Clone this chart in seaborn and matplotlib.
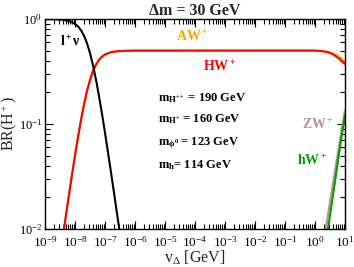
import numpy as np
import pandas as pd
import matplotlib
matplotlib.use("Agg")
import matplotlib.pyplot as plt
import seaborn as sns
from matplotlib.ticker import LogLocator, NullFormatter

# ---- data (log10 of v_Delta, branching ratio) ----
lnu_logv = [-9.0, -8.8, -8.6, -8.4, -8.2, -8.0, -7.9, -7.8, -7.7, -7.6, -7.5, -7.4,
            -7.3, -7.2, -7.1, -7.0, -6.9, -6.8, -6.7, -6.6, -6.5, -6.4]
lnu_br = [0.999, 0.997, 0.993, 0.983, 0.958, 0.900, 0.850, 0.782, 0.693, 0.588, 0.474,
          0.362, 0.264, 0.184, 0.125, 0.0826, 0.0538, 0.0346, 0.0221, 0.0141, 0.0089, 0.0056]

hw_logv = [-8.5, -8.4, -8.3, -8.2, -8.1, -8.0, -7.9, -7.8, -7.7, -7.6, -7.5, -7.4, -7.3,
           -7.2, -7.1, -7.0, -6.8, -6.6, -6.4, -6.0, -4.0, -2.0, 0.0, 0.2, 0.4, 0.5,
           0.6, 0.7, 0.8, 0.9, 1.0]
hw_br = [0.0055, 0.00865, 0.0136, 0.0212, 0.0328, 0.050, 0.0748, 0.109, 0.153, 0.206,
         0.263, 0.319, 0.368, 0.408, 0.438, 0.459, 0.483, 0.493, 0.497, 0.4997, 0.5,
         0.5, 0.5, 0.495, 0.485, 0.475, 0.46, 0.44, 0.42, 0.395, 0.37]

aw_logv = [-8.5, -8.4, -8.3, -8.2, -8.1, -8.0, -7.9, -7.8, -7.7, -7.6, -7.5, -7.4, -7.3,
           -7.2, -7.1, -7.0, -6.8, -6.6, -6.4, -6.0, -4.0, -2.0, 0.0, 0.2, 0.4, 0.6,
           0.8, 0.9, 1.0]
aw_br = [0.0055, 0.00865, 0.0136, 0.0212, 0.0328, 0.050, 0.0748, 0.109, 0.153, 0.206,
         0.263, 0.319, 0.368, 0.408, 0.438, 0.459, 0.483, 0.493, 0.497, 0.4997, 0.5,
         0.5, 0.5, 0.497, 0.49, 0.47, 0.44, 0.415, 0.39]

zw_logv = [0.36, 0.5, 0.6, 0.7, 0.8, 0.9, 1.0]
zw_br = [0.01, 0.018, 0.027, 0.041, 0.062, 0.092, 0.135]

hw0_logv = [0.43, 0.5, 0.6, 0.7, 0.8, 0.9, 1.0]
hw0_br = [0.01, 0.0135, 0.021, 0.033, 0.052, 0.080, 0.12]

mass_labels = [r"$\mathbf{m_{H^{++}}}$ = 190 GeV",
               r"$\mathbf{m_{H^{+}}}$ = 160 GeV",
               r"$\mathbf{m_{\phi^0}}$ = 123 GeV",
               r"$\mathbf{m_{h}}$= 114 GeV"]

sns.set_style("ticks")
plt.rcParams["font.family"] = ["Liberation Serif", "DejaVu Serif"]
plt.rcParams["mathtext.fontset"] = "custom"
plt.rcParams["mathtext.rm"] = "Liberation Serif"
plt.rcParams["mathtext.it"] = "Liberation Serif:italic"
plt.rcParams["mathtext.bf"] = "Liberation Serif:bold"

fig = plt.figure(figsize=(3.54, 2.67), dpi=100)
ax = fig.add_axes([45/354, 1-229/267, 300/354, 210/267])

def draw(logv, br, color, lw=1.5):
    df = pd.DataFrame({"v": np.power(10.0, logv), "br": br})
    sns.lineplot(data=df, x="v", y="br", color=color, lw=lw, ax=ax,
                 estimator=None, sort=False)

draw(aw_logv, aw_br, "#ffa500")
draw(hw_logv, hw_br, "#ff0000")
draw(lnu_logv, lnu_br, "#000000")
draw(zw_logv, zw_br, "#bc8f8f")
draw(hw0_logv, hw0_br, "#00a000")

ax.set_xscale("log")
ax.set_yscale("log")
ax.set_xlim(1e-9, 10)
ax.set_ylim(1e-2, 1)
ax.xaxis.set_major_locator(LogLocator(base=10, numticks=20))
ax.xaxis.set_minor_locator(LogLocator(base=10, subs=np.arange(2, 10), numticks=20))
ax.xaxis.set_minor_formatter(NullFormatter())
ax.yaxis.set_minor_locator(LogLocator(base=10, subs=np.arange(2, 10), numticks=20))
ax.yaxis.set_minor_formatter(NullFormatter())
ax.tick_params(which="both", direction="in", top=True, right=True, labelsize=9.5,
               width=0.8, colors="black")
ax.tick_params(axis="x", pad=4.5)
ax.tick_params(axis="y", pad=2, labelsize=9)
ax.tick_params(which="major", length=6)
ax.tick_params(which="minor", length=3.5)
for s in ax.spines.values():
    s.set_linewidth(1.0)
    s.set_color("black")

ax.set_xlabel(r"v$_\Delta$ [GeV]", fontsize=11.5, labelpad=-1)
ax.set_ylabel(r"BR(H$^+$)", fontsize=11.5)
ax.yaxis.set_label_coords(-0.088, 0.5)
ax.set_title("Δm = 30 GeV", fontsize=11.5, fontweight="bold", pad=3)

ax.text(3.2e-9, 0.6, r"$\mathbf{l^+}$ν", fontsize=10, fontweight="bold",
        color="black", ha="left", va="center")
ax.text(8e-5, 0.675, r"$\mathbf{AW^+}$", fontsize=10, color="#ffa500",
        ha="center", va="center")
ax.text(6.8e-4, 0.35, r"$\mathbf{HW^+}$", fontsize=10, color="#ff0000",
        ha="center", va="center")
ys = [0.175, 0.112, 0.066, 0.041]
for lab, y in zip(mass_labels, ys):
    ax.text(6e-6, y, lab, fontsize=9, fontweight="bold", color="black",
            ha="left", va="center")
ax.text(4.2, 0.097, r"$\mathbf{ZW^+}$", fontsize=10, color="#bc8f8f",
        ha="right", va="center")
ax.text(2.6, 0.044, r"$\mathbf{hW^+}$", fontsize=10, color="#00a000",
        ha="right", va="center")

fig.savefig("out.png", dpi=100)
